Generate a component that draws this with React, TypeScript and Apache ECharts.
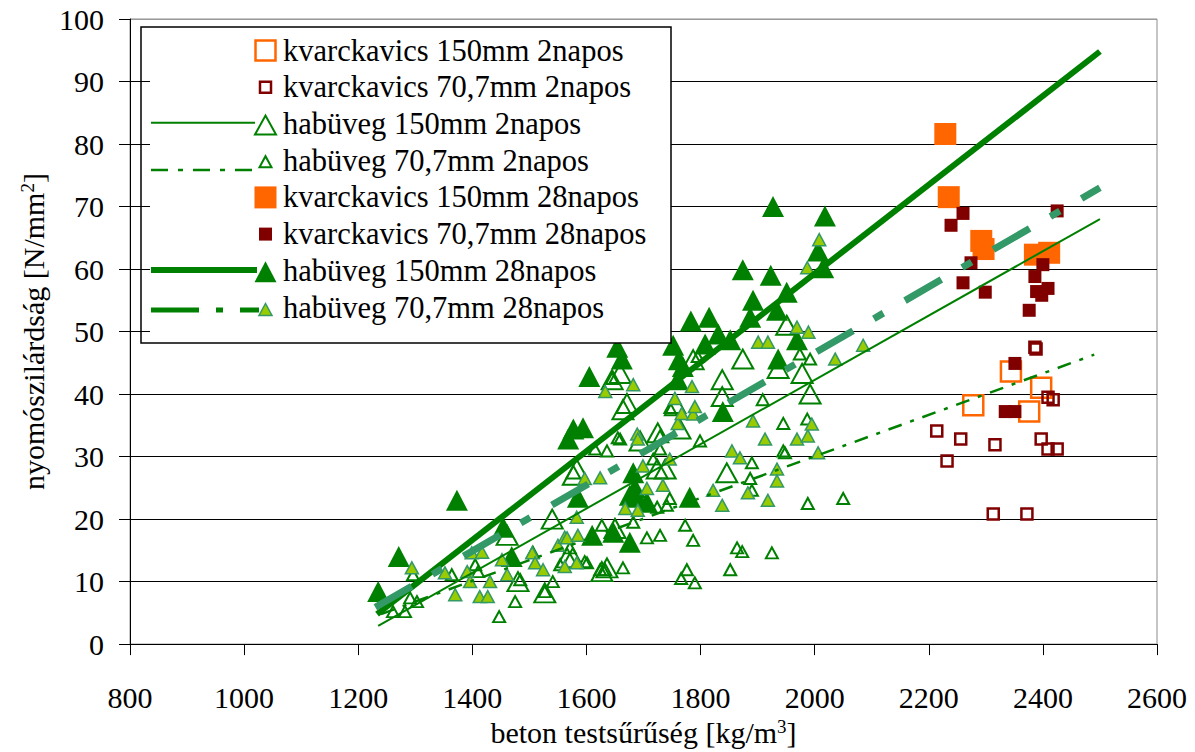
import React, { useEffect, useRef } from "react";
import * as echarts from "echarts";

// axis ranges (tick labels are generated from these)
const X_MIN = 800, X_MAX = 2600, X_STEP = 200;
const Y_MIN = 0, Y_MAX = 100, Y_STEP = 10;

const legendLabels = [
  "kvarckavics 150mm 2napos",
  "kvarckavics 70,7mm 2napos",
  "habüveg 150mm 2napos",
  "habüveg 70,7mm 2napos",
  "kvarckavics 150mm 28napos",
  "kvarckavics 70,7mm 28napos",
  "habüveg 150mm 28napos",
  "habüveg 70,7mm 28napos",
];

// kvarckavics 150mm 2napos (hollow orange squares)
const kvarc150_2 = [[2278, 38.2], [2344, 43.6], [2376, 37.2], [2397, 41.0]];
// kvarckavics 70,7mm 2napos (hollow dark red squares)
const kvarc70_2 = [
  [2214, 34.1], [2232, 29.3], [2256, 32.8], [2313, 20.8], [2316, 31.9], [2372, 20.8],
  [2386, 47.5], [2388, 47.2], [2397, 32.8], [2409, 31.2], [2409, 39.5], [2418, 39.1], [2425, 31.2],
];
// habüveg 150mm 2napos (hollow large triangles)
const hab150_2 = [
  [1461, 17.4], [1480, 10.0], [1527, 8.2], [1540, 20.0], [1566, 13.8], [1576, 13.8],
  [1583, 28.0], [1577, 27.0], [1627, 11.6], [1636, 12.2], [1645, 42.3], [1650, 18.5],
  [1659, 43.3], [1664, 37.5], [1671, 38.5], [1694, 32.5], [1724, 28.0], [1725, 33.8],
  [1738, 28.0], [1755, 38.5], [1764, 34.4], [1787, 45.5], [1838, 42.3], [1838, 39.6],
  [1846, 27.4], [1874, 45.6], [1936, 44.1], [1951, 51.0], [1978, 43.3], [1992, 40.0],
];
// habüveg 70,7mm 2napos (hollow small triangles)
const hab70_2 = [
  [1261, 5.2], [1282, 5.2], [1291, 7.4], [1296, 11.1], [1303, 6.8], [1364, 11.1],
  [1405, 12.7], [1410, 11.6], [1447, 4.4], [1475, 6.8], [1484, 10.3], [1506, 14.7],
  [1527, 8.4], [1541, 10.0], [1554, 12.7], [1571, 15.4], [1597, 13.2], [1601, 13.0],
  [1615, 31.2], [1624, 11.9], [1627, 19.0], [1633, 11.9], [1636, 30.9], [1645, 42.5],
  [1655, 33.0], [1659, 32.8], [1664, 12.2], [1682, 19.5], [1706, 17.0], [1717, 29.6],
  [1724, 21.9], [1729, 17.4], [1729, 31.2], [1729, 33.3], [1741, 22.2], [1746, 23.3],
  [1748, 37.5], [1766, 10.5], [1773, 19.0], [1776, 11.9], [1787, 16.6], [1790, 9.8],
  [1795, 46.0], [1799, 32.5], [1852, 11.9], [1864, 15.4], [1873, 14.8], [1887, 26.5],
  [1890, 24.6], [1890, 29.0], [1909, 39.1], [1925, 14.6], [1945, 30.9], [1945, 35.3],
  [1948, 30.6], [1974, 46.4], [1987, 36.0], [1988, 22.5], [1992, 45.6], [2050, 23.3],
];
// kvarckavics 150mm 28napos (filled orange squares)
const kvarc150_28 = [[2229, 81.6], [2235, 71.5], [2292, 64.5], [2296, 63.2], [2386, 62.3], [2411, 62.6]];
// kvarckavics 70,7mm 28napos (filled dark red squares)
const kvarc70_28 = [
  [2239, 67.0], [2260, 68.9], [2260, 57.8], [2274, 61.0], [2299, 56.3], [2334, 37.2],
  [2351, 37.2], [2351, 44.9], [2376, 53.4], [2386, 58.8], [2389, 56.4], [2398, 55.8],
  [2400, 60.7], [2409, 56.9], [2425, 69.3],
];
// habüveg 150mm 28napos (filled large triangles)
const hab150_28 = [
  [1235, 8.4], [1271, 14.0], [1373, 23.0], [1454, 18.7], [1469, 14.0], [1568, 32.8],
  [1577, 34.4], [1594, 34.6], [1585, 23.5], [1605, 42.8], [1610, 17.4], [1647, 17.9],
  [1654, 47.5], [1662, 45.6], [1676, 16.3], [1676, 23.8], [1682, 27.4], [1685, 25.0],
  [1689, 23.5], [1706, 22.7], [1752, 47.8], [1762, 45.5], [1760, 42.3], [1769, 44.4],
  [1781, 23.5], [1783, 51.7], [1808, 48.0], [1815, 52.3], [1831, 49.6], [1839, 37.2],
  [1852, 48.7], [1874, 59.9], [1887, 52.3], [1892, 55.0], [1923, 59.0], [1927, 70.0],
  [1934, 53.4], [1936, 45.6], [1951, 56.3], [1969, 48.7], [2006, 62.9], [2015, 60.2],
  [2018, 68.5],
];
// habüveg 70,7mm 28napos (small yellow-green triangles)
const hab70_28 = [
  [1294, 12.2], [1352, 11.4], [1370, 7.9], [1391, 11.6], [1396, 10.0], [1399, 14.6],
  [1413, 7.6], [1417, 14.7], [1427, 7.6], [1431, 10.0], [1452, 13.5], [1461, 11.1],
  [1505, 14.6], [1510, 13.0], [1524, 11.9], [1550, 15.8], [1562, 12.4], [1562, 17.1],
  [1566, 17.0], [1583, 13.0], [1583, 20.3], [1585, 17.4], [1597, 26.5], [1624, 26.6],
  [1633, 40.4], [1668, 21.7], [1682, 41.5], [1689, 33.6], [1690, 32.8], [1690, 21.4],
  [1699, 28.5], [1706, 24.9], [1734, 25.4], [1746, 29.6], [1755, 39.3], [1760, 35.3],
  [1767, 36.9], [1785, 41.2], [1787, 36.8], [1790, 38.0], [1822, 24.6], [1838, 22.2],
  [1855, 30.9], [1869, 29.8], [1883, 24.2], [1892, 35.7], [1901, 48.3], [1913, 32.8],
  [1918, 48.3], [1918, 23.0], [1934, 28.0], [1934, 26.1], [1969, 50.7], [1969, 32.8],
  [1987, 60.2], [1988, 33.3], [1989, 49.9], [1995, 35.2], [2006, 30.6], [2008, 64.7],
  [2036, 45.6], [2085, 47.8],
];

// trend lines (end points)
const trend150_2 = [[1235, 2.9], [2500, 68.0]];
const trend70_2 = [[1240, 4.8], [2490, 46.3]];
const trend150_28 = [[1233, 4.8], [2500, 94.8]];
const trend70_28 = [[1230, 5.9], [2500, 73.0]];

const FONT = "Liberation Serif";
const GREEN = "#008000";
const ORANGE = "#FF6600";
const DARKRED = "#800000";
const YG = "#99CC00";
const TEAL = "#339966";

function tri(cx: number, cy: number, w: number, h: number) {
  return [[cx - w / 2, cy + h / 2], [cx + w / 2, cy + h / 2], [cx, cy - h / 2]];
}

function buildLegend() {
  const els: any[] = [];
  const bx = 141, by = 27, bw = 530, bh = 316;
  els.push({ type: "rect", shape: { x: 150, y: by, width: bx + bw - 150, height: bh }, style: { fill: "#fff" }, z: 100 });
  els.push({ type: "rect", shape: { x: bx, y: by, width: bw, height: bh }, style: { fill: "none", stroke: "#000", lineWidth: 1.5 }, z: 101 });
  const sx = 265.5;
  legendLabels.forEach((label, i) => {
    const cy = 50.6 + 36.7 * i;
    els.push({
      type: "text", x: 283, y: cy, z: 102,
      style: { text: label, fontFamily: FONT, fontSize: 30.5, fill: "#000", verticalAlign: "middle", align: "left" },
    });
    let sym: any = null;
    if (i === 0) sym = { type: "rect", shape: { x: sx - 10, y: cy - 10, width: 20, height: 20 }, style: { fill: "#fff", stroke: ORANGE, lineWidth: 2.5 } };
    if (i === 1) sym = { type: "rect", shape: { x: sx - 5.5, y: cy - 5.5, width: 11, height: 11 }, style: { fill: "#fff", stroke: DARKRED, lineWidth: 2.5 } };
    if (i === 2) sym = { type: "polygon", shape: { points: tri(sx, cy + 1, 21, 19) }, style: { fill: "#fff", stroke: GREEN, lineWidth: 2 } };
    if (i === 3) sym = { type: "polygon", shape: { points: tri(sx, cy + 1, 12, 11) }, style: { fill: "#fff", stroke: GREEN, lineWidth: 2 } };
    if (i === 4) sym = { type: "rect", shape: { x: sx - 11, y: cy - 11, width: 22, height: 22 }, style: { fill: ORANGE } };
    if (i === 5) sym = { type: "rect", shape: { x: sx - 6.5, y: cy - 6.5, width: 13, height: 13 }, style: { fill: DARKRED } };
    if (i === 6) sym = { type: "polygon", shape: { points: tri(sx, cy + 1, 22, 21) }, style: { fill: GREEN } };
    if (i === 7) sym = { type: "polygon", shape: { points: tri(sx, cy + 2, 13, 12) }, style: { fill: YG, stroke: TEAL, lineWidth: 1.5 } };
    if (i === 2) els.push({ type: "line", z: 102, shape: { x1: 151, y1: 122.7, x2: 255, y2: 122.7 }, style: { stroke: GREEN, lineWidth: 2 } });
    if (i === 3) els.push({ type: "line", z: 102, shape: { x1: 151, y1: 170, x2: 259, y2: 170 }, style: { stroke: GREEN, lineWidth: 2.5, lineDash: [17, 10, 5, 10] } });
    if (i === 6) els.push({ type: "line", z: 102, shape: { x1: 151, y1: 270, x2: 257, y2: 270 }, style: { stroke: GREEN, lineWidth: 6 } });
    if (i === 7) els.push({ type: "line", z: 102, shape: { x1: 151, y1: 310, x2: 259, y2: 310 }, style: { stroke: GREEN, lineWidth: 5, lineDash: [48, 17, 7, 17] } });
    if (sym) { sym.z = 103; els.push(sym); }
  });
  return els;
}

function scatter(name: string, data: number[][], symbol: string, size: any, itemStyle: any) {
  return { name, type: "scatter", data, symbol, symbolSize: size, itemStyle: { opacity: 1, ...itemStyle }, silent: true, z: 3 };
}
function trend(name: string, data: number[][], color: string, width: number, type: any) {
  return {
    name, type: "line", data, symbol: "none", showSymbol: false, silent: true, z: 5,
    lineStyle: { color, width, type, cap: "butt", opacity: 1 },
  };
}

const richTitle = {
  t: { fontFamily: FONT, fontSize: 30, color: "#000", lineHeight: 30 },
  s: { fontFamily: FONT, fontSize: 19, color: "#000", lineHeight: 16, verticalAlign: "top" },
};

export default function App() {
  const ref = useRef<HTMLDivElement>(null);
  useEffect(() => {
    const chart = echarts.init(ref.current!, null, { renderer: "svg" });
    const splitColors = Array.from({ length: 11 }, (_, i) => (i === 10 ? "#9a9a9a" : "#000"));
    chart.setOption({
      animation: false,
      backgroundColor: "#fff",
      textStyle: { fontFamily: FONT },
      grid: { left: 130, top: 19, right: 38, bottom: 102, show: true, borderColor: "#8c8c8c", borderWidth: 1 },
      xAxis: {
        type: "value", min: X_MIN, max: X_MAX, interval: X_STEP,
        axisLine: { lineStyle: { color: "#000", width: 1 } },
        axisTick: { show: true, inside: false, length: 11, lineStyle: { color: "#000" } },
        splitLine: { show: false },
        axisLabel: { fontFamily: FONT, fontSize: 30, color: "#000", margin: 38, formatter: (v: number) => String(v) },
        name: "{t|beton testsűrűség [kg/m}{s|3}{t|]}",
        nameLocation: "middle", nameGap: 68,
        nameTextStyle: { fontFamily: FONT, rich: richTitle },
      },
      yAxis: {
        type: "value", min: Y_MIN, max: Y_MAX, interval: Y_STEP,
        axisLine: { show: true, lineStyle: { color: "#000", width: 1 } },
        axisTick: { show: true, inside: false, length: 11, lineStyle: { color: "#000" } },
        splitLine: { show: true, lineStyle: { color: splitColors, width: 1 } },
        axisLabel: { fontFamily: FONT, fontSize: 30, color: "#000", margin: 26, formatter: (v: number) => String(v) },
        name: "{t|nyomószilárdság [N/mm}{s|2}{t|]}",
        nameLocation: "middle", nameGap: 82, nameRotate: 90,
        nameTextStyle: { fontFamily: FONT, rich: richTitle },
      },
      series: [
        scatter(legendLabels[0], kvarc150_2, "rect", 20, { color: "rgba(0,0,0,0)", borderColor: ORANGE, borderWidth: 2.5 }),
        scatter(legendLabels[1], kvarc70_2, "rect", 11, { color: "rgba(0,0,0,0)", borderColor: DARKRED, borderWidth: 2.5 }),
        scatter(legendLabels[2], hab150_2, "triangle", [21, 19], { color: "rgba(0,0,0,0)", borderColor: GREEN, borderWidth: 2 }),
        scatter(legendLabels[3], hab70_2, "triangle", [12, 11], { color: "rgba(0,0,0,0)", borderColor: GREEN, borderWidth: 2 }),
        scatter(legendLabels[4], kvarc150_28, "rect", 22, { color: ORANGE }),
        scatter(legendLabels[5], kvarc70_28, "rect", 13, { color: DARKRED }),
        scatter(legendLabels[6], hab150_28, "triangle", [22, 21], { color: GREEN }),
        scatter(legendLabels[7], hab70_28, "triangle", [13, 12], { color: YG, borderColor: TEAL, borderWidth: 1.5 }),
        trend("trend 150mm 2napos", trend150_2, GREEN, 2, "solid"),
        trend("trend 70,7mm 2napos", trend70_2, GREEN, 2.5, [14, 9, 4, 9]),
        trend("trend 150mm 28napos", trend150_28, GREEN, 6, "solid"),
        trend("trend 70,7mm 28napos", trend70_28, TEAL, 7, [42, 24, 11, 25]),
      ],
      graphic: buildLegend(),
    });
    return () => chart.dispose();
  }, []);
  return (
    <div
      ref={ref}
      style={{ position: "absolute", left: 0, top: 0, width: 1195, height: 752, background: "#fff" }}
    />
  );
}
